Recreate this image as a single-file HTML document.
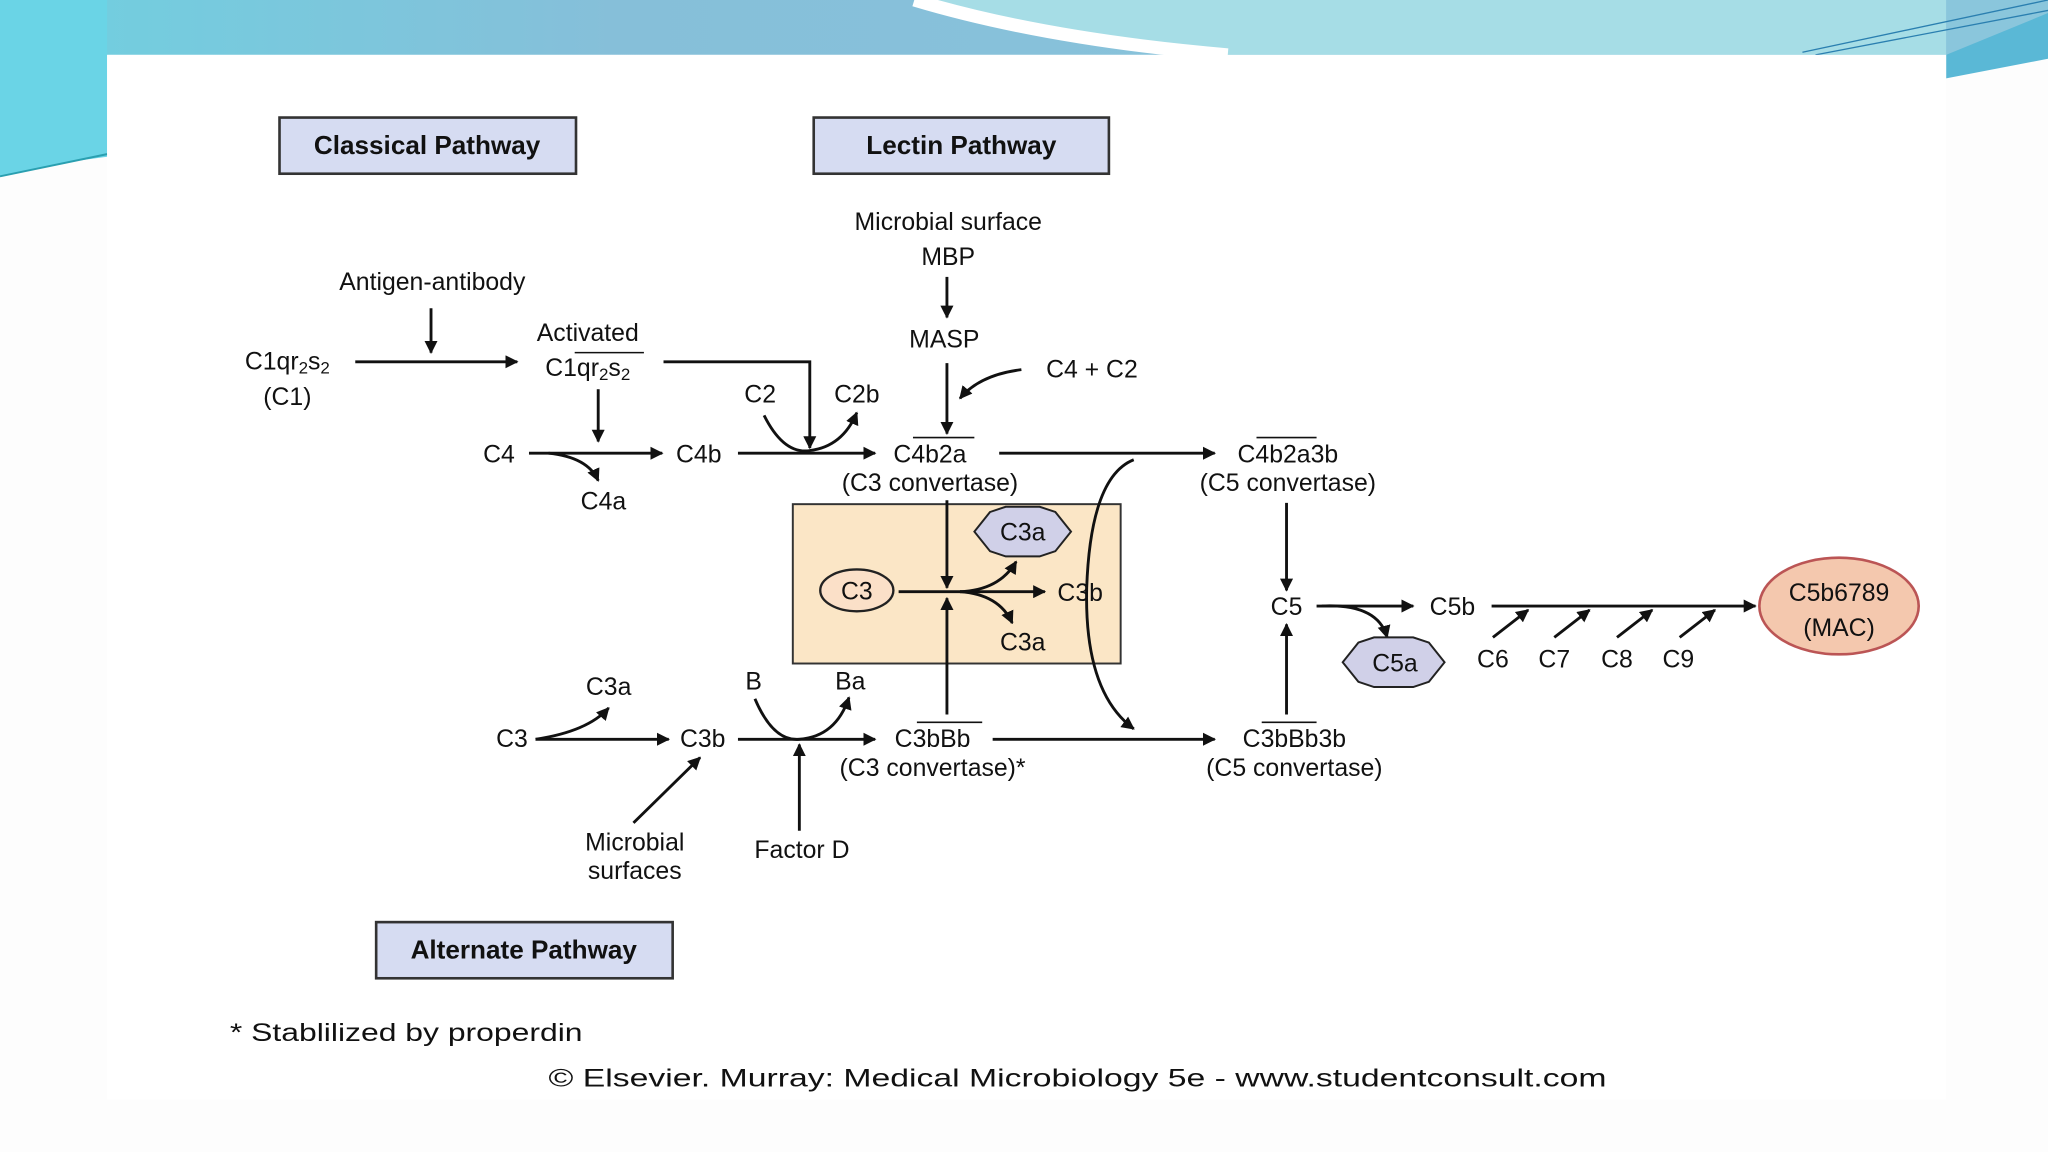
<!DOCTYPE html>
<html><head><meta charset="utf-8"><style>
html,body{margin:0;padding:0;background:#fff;}
svg{display:block}
text{font-family:"Liberation Sans",sans-serif;font-size:19px;fill:#111}
.b{font-weight:bold;font-size:20px}
</style></head><body>
<svg width="2048" height="1152" viewBox="0 0 1568 882" preserveAspectRatio="none" xmlns="http://www.w3.org/2000/svg">
<defs>
<marker id="a" markerWidth="10" markerHeight="10" refX="9" refY="5" orient="auto" markerUnits="userSpaceOnUse"><path d="M0,0 L10,5 L0,10 z" fill="#111"/></marker>
<linearGradient id="bg" x1="0" x2="1" y1="0" y2="0"><stop offset="0" stop-color="#6fd0e0"/><stop offset="0.3" stop-color="#86bfd9"/><stop offset="1" stop-color="#8ac6dc"/></linearGradient>
</defs>
<rect width="1568" height="882" fill="#fdfdfd"/>
<rect width="1568" height="42" fill="url(#bg)"/>
<path d="M0,0 H82 V120 Q40,125 0,135 Z" fill="#6ad4e6"/>
<path d="M700,0 Q800,30 940,42 H1490 V0 Z" fill="#a6dde6"/>
<path d="M700,0 Q800,30 940,42" stroke="#fff" stroke-width="10" fill="none"/>
<path d="M1490,42 L1568,10 V45 L1490,60 Z" fill="#5ab8d6"/>
<path d="M1380,40 L1568,0 M1390,42 L1568,8" stroke="#2a7fb0" stroke-width="1"/>
<path d="M0,135 L82,118" stroke="#2a9fb0" stroke-width="1.5"/>
<rect x="82" y="42" width="1408" height="800" fill="#fff"/>
<rect x="607" y="386" width="251" height="122" fill="#fbe6c6" stroke="#333" stroke-width="1.5"/>
<g stroke="#111" stroke-width="2.2" fill="none">
<line x1="330" y1="236" x2="330" y2="270" marker-end="url(#a)"/>
<line x1="272" y1="277" x2="396" y2="277" marker-end="url(#a)"/>
<path d="M508,277 H620 V343" marker-end="url(#a)"/>
<line x1="458" y1="298" x2="458" y2="338" marker-end="url(#a)"/>
<line x1="405" y1="347" x2="507" y2="347" marker-end="url(#a)"/>
<path d="M420,347 Q450,350 458,368" marker-end="url(#a)"/>
<line x1="565" y1="347" x2="670" y2="347" marker-end="url(#a)"/>
<path d="M585,318 Q600,348 620,345 Q645,342 656,316" marker-end="url(#a)"/>
<line x1="725" y1="212" x2="725" y2="243" marker-end="url(#a)"/>
<line x1="725" y1="278" x2="725" y2="332" marker-end="url(#a)"/>
<path d="M782,283 Q750,287 735,305" marker-end="url(#a)"/>
<line x1="765" y1="347" x2="930" y2="347" marker-end="url(#a)"/>
<line x1="985" y1="385" x2="985" y2="452" marker-end="url(#a)"/>
<line x1="725" y1="383" x2="725" y2="450" marker-end="url(#a)"/>
<line x1="725" y1="547" x2="725" y2="458" marker-end="url(#a)"/>
<line x1="688" y1="453" x2="800" y2="453" marker-end="url(#a)"/>
<path d="M735,453 Q765,452 778,430" marker-end="url(#a)"/>
<path d="M735,453 Q765,455 775,477" marker-end="url(#a)"/>
<path d="M868,352 Q835,365 832,450 Q830,530 868,558" marker-end="url(#a)"/>
<path d="M410,566 Q450,560 466,542" marker-end="url(#a)"/>
<line x1="410" y1="566" x2="512" y2="566" marker-end="url(#a)"/>
<line x1="485" y1="630" x2="536" y2="580" marker-end="url(#a)"/>
<line x1="565" y1="566" x2="670" y2="566" marker-end="url(#a)"/>
<path d="M578,535 Q592,568 612,566 Q640,564 650,534" marker-end="url(#a)"/>
<line x1="612" y1="636" x2="612" y2="570" marker-end="url(#a)"/>
<line x1="760" y1="566" x2="930" y2="566" marker-end="url(#a)"/>
<line x1="985" y1="547" x2="985" y2="478" marker-end="url(#a)"/>
<line x1="1008" y1="464" x2="1082" y2="464" marker-end="url(#a)"/>
<path d="M1012,464 Q1055,462 1062,488" marker-end="url(#a)"/>
<line x1="1142" y1="464" x2="1344" y2="464" marker-end="url(#a)"/>
<line x1="1143" y1="488" x2="1170" y2="467" marker-end="url(#a)"/>
<line x1="1190" y1="488" x2="1217" y2="467" marker-end="url(#a)"/>
<line x1="1238" y1="488" x2="1265" y2="467" marker-end="url(#a)"/>
<line x1="1286" y1="488" x2="1313" y2="467" marker-end="url(#a)"/>
</g>
<rect x="214" y="90" width="227" height="43" fill="#d6dcf2" stroke="#333" stroke-width="2"/>
<text x="327" y="118" text-anchor="middle" class="b">Classical Pathway</text>
<rect x="623" y="90" width="226" height="43" fill="#d6dcf2" stroke="#333" stroke-width="2"/>
<text x="736" y="118" text-anchor="middle" class="b">Lectin Pathway</text>
<rect x="288" y="706" width="227" height="43" fill="#d6dcf2" stroke="#333" stroke-width="2"/>
<text x="401" y="734" text-anchor="middle" class="b">Alternate Pathway</text>
<ellipse cx="656" cy="452" rx="28" ry="16" fill="#fbe0c8" stroke="#222" stroke-width="1.8"/>
<text x="656" y="459" text-anchor="middle">C3</text>
<polygon points="758,392 770,388 796,388 808,392 820,407 808,422 796,426 770,426 758,422 746,407" fill="#d0d0e8" stroke="#222" stroke-width="1.5"/>
<text x="783" y="414" text-anchor="middle">C3a</text>
<polygon points="1040,492 1052,488 1082,488 1094,492 1106,507 1094,522 1082,526 1052,526 1040,522 1028,507" fill="#d0d0e8" stroke="#222" stroke-width="1.5"/>
<text x="1068" y="514" text-anchor="middle">C5a</text>
<ellipse cx="1408" cy="464" rx="61" ry="37" fill="#f4c8ae" stroke="#b55" stroke-width="2"/>
<text x="1408" y="460" text-anchor="middle">C5b6789</text>
<text x="1408" y="487" text-anchor="middle">(MAC)</text>
<text x="331" y="222" text-anchor="middle">Antigen-antibody</text>
<text x="220" y="283" text-anchor="middle">C1qr<tspan font-size="13" dy="3">2</tspan><tspan dy="-3">s</tspan><tspan font-size="13" dy="3">2</tspan></text>
<text x="220" y="310" text-anchor="middle">(C1)</text>
<text x="450" y="261" text-anchor="middle">Activated</text>
<text x="450" y="288" text-anchor="middle">C1q<tspan>r</tspan><tspan font-size="13" dy="3">2</tspan><tspan dy="-3">s</tspan><tspan font-size="13" dy="3">2</tspan></text>
<line x1="440" y1="270" x2="493" y2="270" stroke="#111" stroke-width="1.2"/>
<text x="382" y="354" text-anchor="middle">C4</text>
<text x="462" y="390" text-anchor="middle">C4a</text>
<text x="535" y="354" text-anchor="middle">C4b</text>
<text x="582" y="308" text-anchor="middle">C2</text>
<text x="656" y="308" text-anchor="middle">C2b</text>
<text x="726" y="176" text-anchor="middle">Microbial surface</text>
<text x="726" y="203" text-anchor="middle">MBP</text>
<text x="723" y="266" text-anchor="middle">MASP</text>
<text x="836" y="289" text-anchor="middle">C4 + C2</text>
<text x="712" y="354" text-anchor="middle">C4b2a</text>
<line x1="699" y1="335" x2="746" y2="335" stroke="#111" stroke-width="1.2"/>
<text x="712" y="376" text-anchor="middle">(C3 convertase)</text>
<text x="986" y="354" text-anchor="middle">C4b2a3b</text>
<line x1="962" y1="335" x2="1008" y2="335" stroke="#111" stroke-width="1.2"/>
<text x="986" y="376" text-anchor="middle">(C5 convertase)</text>
<text x="827" y="460" text-anchor="middle">C3b</text>
<text x="783" y="498" text-anchor="middle">C3a</text>
<text x="985" y="471" text-anchor="middle">C5</text>
<text x="1112" y="471" text-anchor="middle">C5b</text>
<text x="1143" y="511" text-anchor="middle">C6</text>
<text x="1190" y="511" text-anchor="middle">C7</text>
<text x="1238" y="511" text-anchor="middle">C8</text>
<text x="1285" y="511" text-anchor="middle">C9</text>
<text x="466" y="532" text-anchor="middle">C3a</text>
<text x="392" y="572" text-anchor="middle">C3</text>
<text x="538" y="572" text-anchor="middle">C3b</text>
<text x="577" y="528" text-anchor="middle">B</text>
<text x="651" y="528" text-anchor="middle">Ba</text>
<text x="714" y="572" text-anchor="middle">C3bBb</text>
<line x1="702" y1="553" x2="752" y2="553" stroke="#111" stroke-width="1.2"/>
<text x="714" y="594" text-anchor="middle">(C3 convertase)*</text>
<text x="991" y="572" text-anchor="middle">C3bBb3b</text>
<line x1="966" y1="553" x2="1008" y2="553" stroke="#111" stroke-width="1.2"/>
<text x="991" y="594" text-anchor="middle">(C5 convertase)</text>
<text x="486" y="651" text-anchor="middle">Microbial</text>
<text x="486" y="673" text-anchor="middle">surfaces</text>
<text x="614" y="657" text-anchor="middle">Factor D</text>
<text x="176" y="797" textLength="270" lengthAdjust="spacingAndGlyphs" font-size="20">* Stablilized by properdin</text>
<text x="420" y="832" textLength="810" lengthAdjust="spacingAndGlyphs" font-size="21">© Elsevier. Murray: Medical Microbiology 5e - www.studentconsult.com</text>
</svg>
</body></html>
